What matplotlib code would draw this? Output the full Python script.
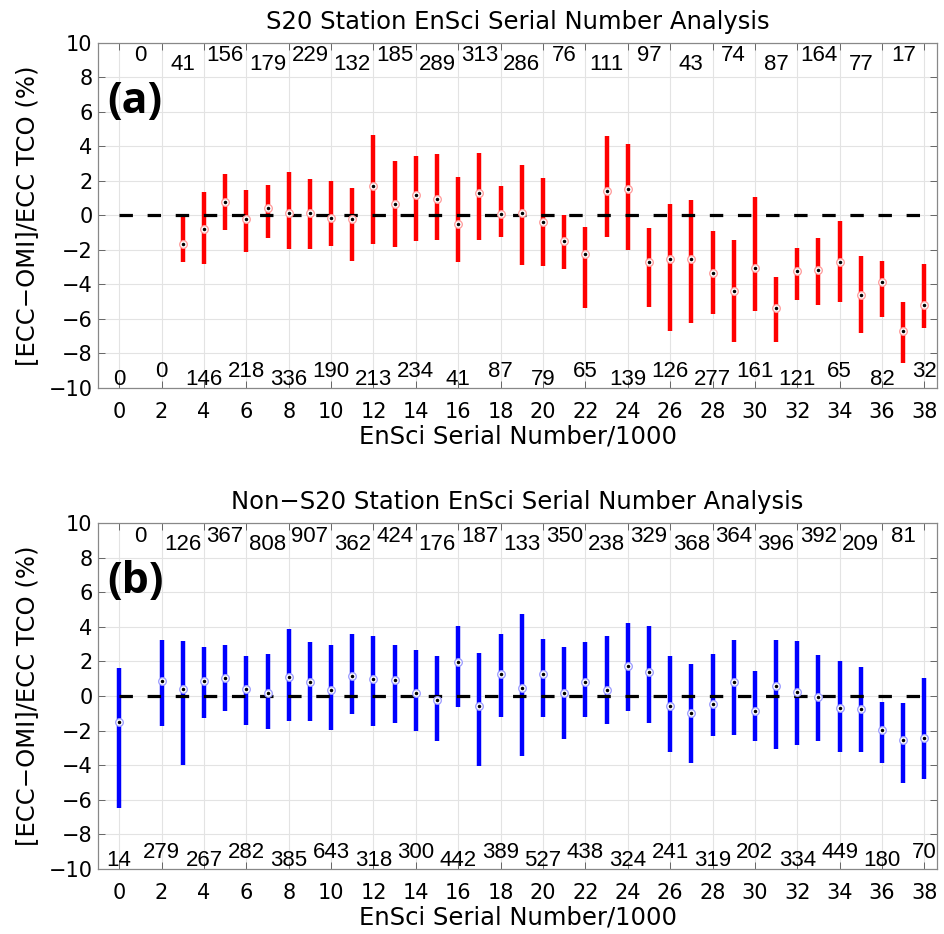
import numpy as np
import matplotlib
matplotlib.use('Agg')
import matplotlib.pyplot as plt

nan = np.nan
bins = np.arange(39)

# S20 stations
s20_count = [0, 0, 0, 41, 146, 156, 218, 179, 336, 229, 190, 132, 213, 185, 234, 289, 41, 313, 87,
             286, 79, 76, 65, 111, 139, 97, 126, 43, 277, 74, 161, 87, 121, 164, 65, 77, 82, 17, 32]
s20_mean = [nan, nan, nan, -1.65, -0.76, 0.78, -0.19, 0.45, 0.14, 0.17, -0.14, -0.19, 1.69,
            0.68, 1.18, 0.93, -0.52, 1.32, 0.10, 0.14, -0.39, -1.49, -2.23,
            1.43, 1.55, -2.67, -2.52, -2.52, -3.35, -4.36, -3.06, -5.35, -3.22,
            -3.14, -2.67, -4.61, -3.84, -6.69, -5.17]
s20_hi = [nan, nan, nan, 0.0, 1.36, 2.42, 1.49, 1.74, 2.52, 2.13, 1.98, 1.59, 4.69,
          3.14, 3.43, 3.55, 2.23, 3.64, 1.69, 2.95, 2.17, 0.05, -0.64,
          4.59, 4.15, -0.74, 0.64, 0.91, -0.91, -1.40, 1.07, -3.58, -1.86,
          -1.32, -0.33, -2.34, -2.66, -5.00, -2.81]
s20_lo = [nan, nan, nan, -2.71, -2.81, -0.87, -2.13, -1.30, -1.94, -1.96, -1.78, -2.62, -1.65,
          -1.82, -1.49, -1.45, -2.71, -1.45, -1.22, -2.85, -2.95, -3.10, -5.39,
          -1.26, -2.00, -5.33, -6.69, -6.24, -5.72, -7.36, -5.56, -7.36, -4.88,
          -5.19, -5.04, -6.82, -5.91, -8.53, -6.55]

# non-S20 stations
ns_count = [14, 0, 279, 126, 267, 367, 282, 808, 385, 907, 643, 362, 318, 424, 300, 176, 442, 187, 389,
            133, 527, 350, 438, 238, 324, 329, 241, 368, 319, 364, 202, 396, 334, 392, 449, 209, 180, 81, 70]
ns_mean = [-1.52, nan, 0.89, 0.40, 0.89, 1.06, 0.40, 0.15, 1.12, 0.79, 0.37, 1.16, 0.96,
           0.92, 0.17, -0.25, 1.98, -0.56, 1.27, 0.48, 1.25, 0.15, 0.81,
           0.33, 1.73, 1.41, -0.60, -0.96, -0.46, 0.83, -0.87, 0.58, 0.25,
           -0.04, -0.71, -0.73, -1.97, -2.54, -2.45]
ns_hi = [1.60, nan, 3.24, 3.16, 2.85, 2.97, 2.31, 2.41, 3.85, 3.14, 2.93, 3.58, 3.47,
         2.93, 2.64, 2.31, 4.05, 2.50, 3.57, 4.72, 3.29, 2.85, 3.10,
         3.47, 4.20, 4.05, 2.33, 1.83, 2.41, 3.24, 1.43, 3.26, 3.16,
         2.37, 2.02, 1.70, -0.37, -0.39, 1.06]
ns_lo = [-6.45, nan, -1.73, -3.99, -1.29, -0.85, -1.68, -1.89, -1.43, -1.46, -1.98, -1.02, -1.73,
         -1.56, -2.02, -2.60, -0.66, -4.05, -1.23, -3.47, -1.23, -2.49, -1.23,
         -1.62, -0.85, -1.58, -3.22, -3.85, -2.29, -2.25, -2.58, -3.08, -2.83,
         -2.60, -3.26, -3.22, -3.89, -5.01, -4.78]

xticks = np.arange(0, 39, 2)
yticks = np.arange(-10, 11, 2)


def draw_panel(ax, mean, lo, hi, count, color, ring, title, tag):
    ax.vlines(bins, lo, hi, color=color, lw=3.2, zorder=2)
    ax.plot([0, 38], [0, 0], color='black', lw=2.3, dashes=(4.2, 4.6), zorder=3)
    ax.plot(bins, mean, 'o', ms=5.5, mfc='white', mec=ring, mew=0.9, zorder=4)
    ax.plot(bins, mean, '.', ms=3, color='black', zorder=5)

    # sample counts: odd bins along the top, even bins along the bottom
    for b, n in zip(bins, count):
        k = b // 2
        if b % 2 == 1:
            y = 9.25 if k % 2 == 0 else 8.78
        else:
            y = -9.5 if k % 2 == 0 else -9.05
        ax.text(b, y, str(n), ha='center', va='center', fontsize=16,
                family='Liberation Sans', zorder=6)

    ax.text(0.011, 0.83, tag, transform=ax.transAxes, ha='left', va='center',
            fontsize=31, fontweight='bold', family='Open Sans')

    ax.set_xlim(-1, 38.6)
    ax.set_ylim(-10, 10)
    ax.set_xticks(xticks)
    ax.set_yticks(yticks)
    ax.grid(True, color='#e3e3e3', lw=0.8)
    ax.set_axisbelow(True)
    ax.tick_params(direction='in', top=True, right=True, length=5, width=0.7,
                   color='#666666', labelsize=15)
    ax.tick_params(axis='x', pad=10)
    ax.tick_params(axis='y', pad=4)
    for s in ax.spines.values():
        s.set_color('#888888')
        s.set_linewidth(0.9)
    ax.set_title(title, fontsize=17.5, pad=10)
    ax.set_xlabel('EnSci Serial Number/1000', fontsize=17.5, labelpad=2)
    ax.set_ylabel('[ECC\u2212OMI]/ECC TCO (%)', fontsize=17.5, labelpad=7)


fig = plt.figure(figsize=(9.45, 9.34), dpi=100)
ax1 = fig.add_axes([0.1037, 0.5846, 0.888, 0.3694])
ax2 = fig.add_axes([0.1037, 0.0696, 0.888, 0.3704])

draw_panel(ax1, s20_mean, s20_lo, s20_hi, s20_count, '#ff0000', '#ff9a9a',
           'S20 Station EnSci Serial Number Analysis', '(a)')
draw_panel(ax2, ns_mean, ns_lo, ns_hi, ns_count, '#0000ff', '#9a9aff',
           'Non\u2212S20 Station EnSci Serial Number Analysis', '(b)')

fig.savefig('out.png', dpi=100)
